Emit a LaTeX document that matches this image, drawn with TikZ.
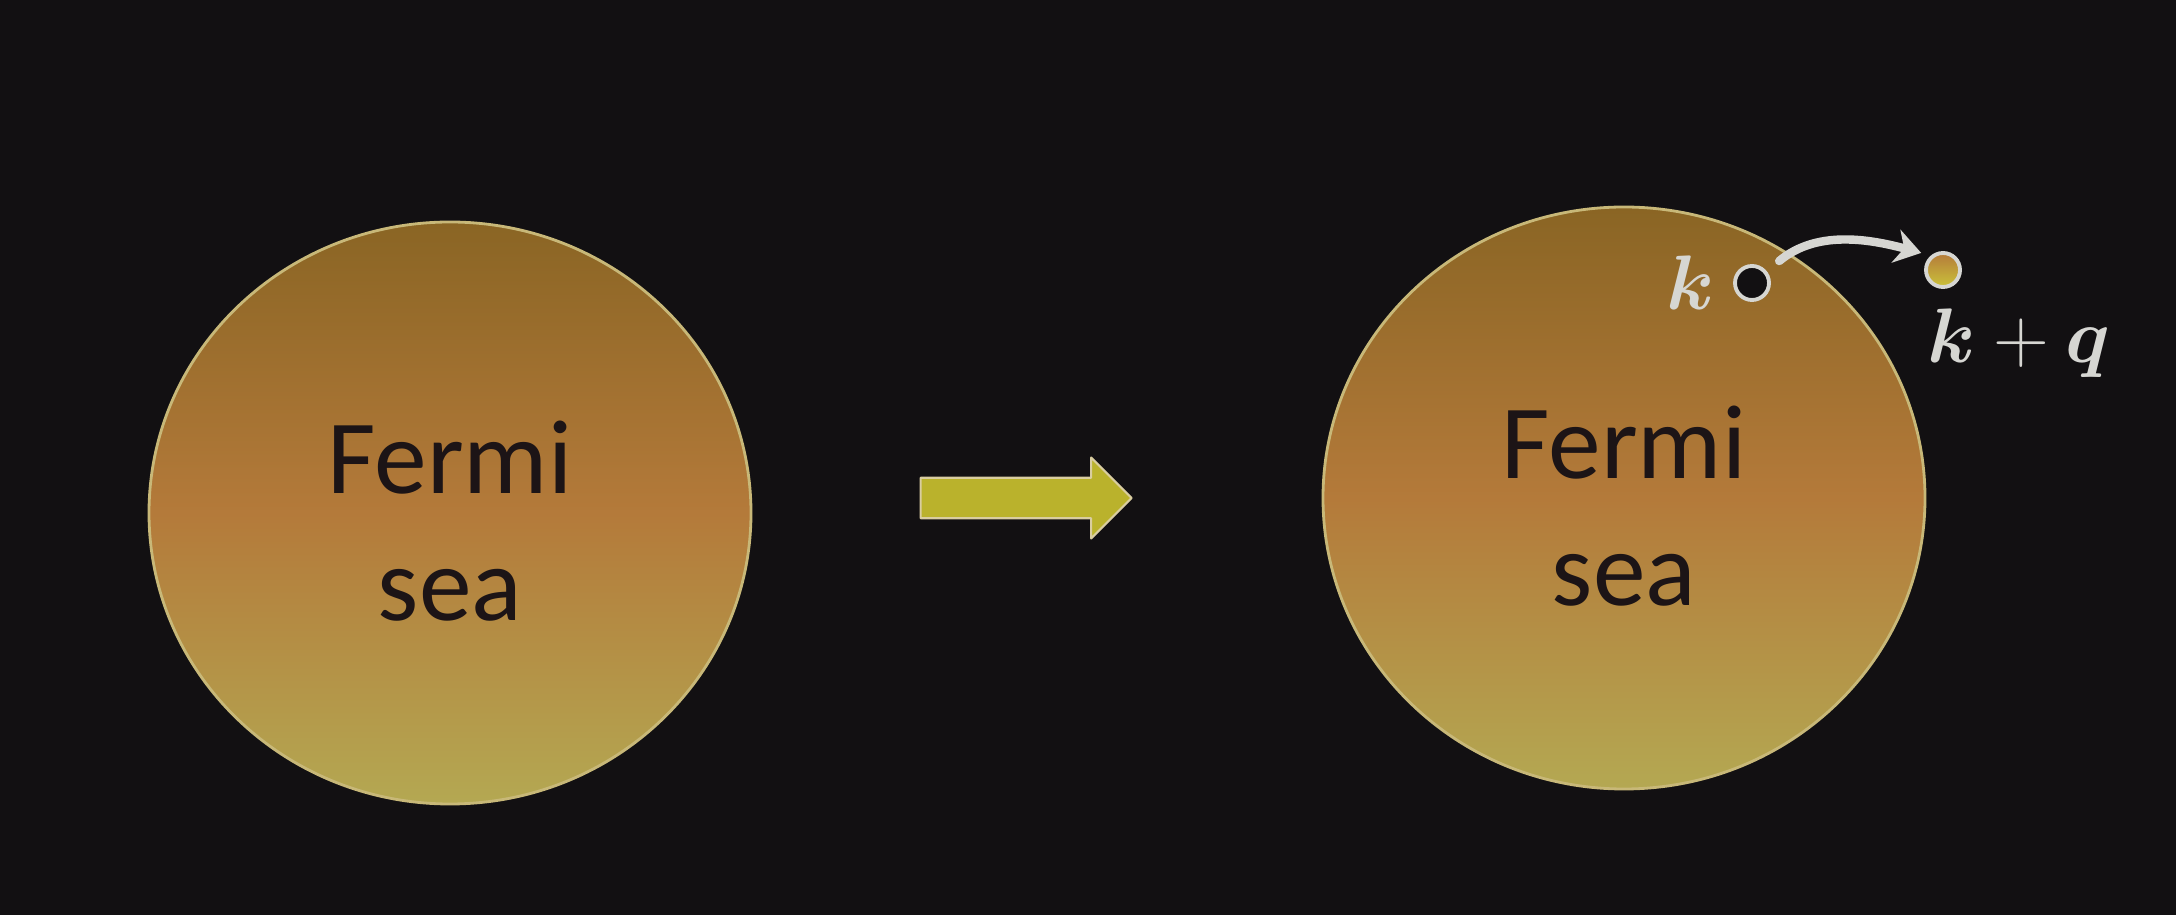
\RequirePackage{fix-cm}
\documentclass[tikz,border=0pt]{standalone}
\usepackage{amsmath, amssymb, bm}
\usepackage{fontspec}
\setmainfont{Carlito}
\usepackage{tikz}
\usetikzlibrary{arrows.meta, calc, positioning, shapes.geometric, shapes.arrows}
\definecolor{fs-bg}{HTML}{121012}
\definecolor{fs-ink}{HTML}{1C1416}
\definecolor{fs-pale}{HTML}{D6D6D2}
\definecolor{fs-rim}{HTML}{C8B878}
\definecolor{fs-top}{HTML}{8A6524}
\definecolor{fs-mid}{HTML}{B47A3A}
\definecolor{fs-low}{HTML}{B4A852}
\definecolor{fs-push}{HTML}{BAB22C}
\newcommand{\seaword}[1]{\raisebox{-0.08cm}[\height][\depth]{#1}}
\tikzset{
  sea/.style={ellipse, draw=fs-rim, line width=0.8pt, minimum width=6.02cm,
    minimum height=5.82cm, top color=fs-top, bottom color=fs-low,
    middle color=fs-mid, align=center, text=fs-ink,
    font=\fontsize{30}{36}\selectfont},
  push/.style={single arrow, draw=fs-rim!70!white, line width=0.6pt,
    fill=fs-push, minimum height=2.11cm, minimum width=0.81cm,
    single arrow head extend=0.2cm, inner sep=0.19cm},
  hole/.style={circle, minimum size=0.34cm, inner sep=0pt, fill=fs-bg,
    draw=fs-pale, line width=1.1pt},
  elec/.style={circle, minimum size=0.34cm, inner sep=0pt, top color=fs-mid,
    bottom color=fs-low!70!yellow, draw=fs-pale, line width=1.1pt},
  lbl/.style={text=fs-pale, inner sep=0pt, font=\fontsize{22}{26}\selectfont},
  jump/.style={->, draw=fs-pale, line width=2.4pt,
    shorten <=0.16cm, shorten >=0.1cm}
}
\begin{document}
\begin{tikzpicture}[>={Stealth[length=2.6mm, width=3.4mm]}, line cap=round, line join=round]
  \useasboundingbox (0,0) rectangle (21.76,9.15);
  \fill[fs-bg] (0,0) rectangle (21.76,9.15);
  % the two fermi seas
  \node[sea] (before) at (4.50,4.02) {\seaword{Fermi}\\\seaword{sea}};
  \node[sea] (after) at (16.24,4.17) {\seaword{Fermi}\\\seaword{sea}};
  % transition arrow
  \node[push] (go) at (10.16,4.17) {};
  % hole and excited electron
  \node[hole] (hole) at (17.52,6.32) {};
  \node[elec] (elec) at (19.43,6.45) {};
  \node[lbl, left=0.18cm of hole] (klbl) {$\bm{k}$};
  \node[lbl, anchor=base west] (kqlbl) at (19.27,5.52) {$\bm{k}+\bm{q}$};
  \draw[jump] (hole.38) to[out=40, in=165] (elec.130);
\end{tikzpicture}
\end{document}
